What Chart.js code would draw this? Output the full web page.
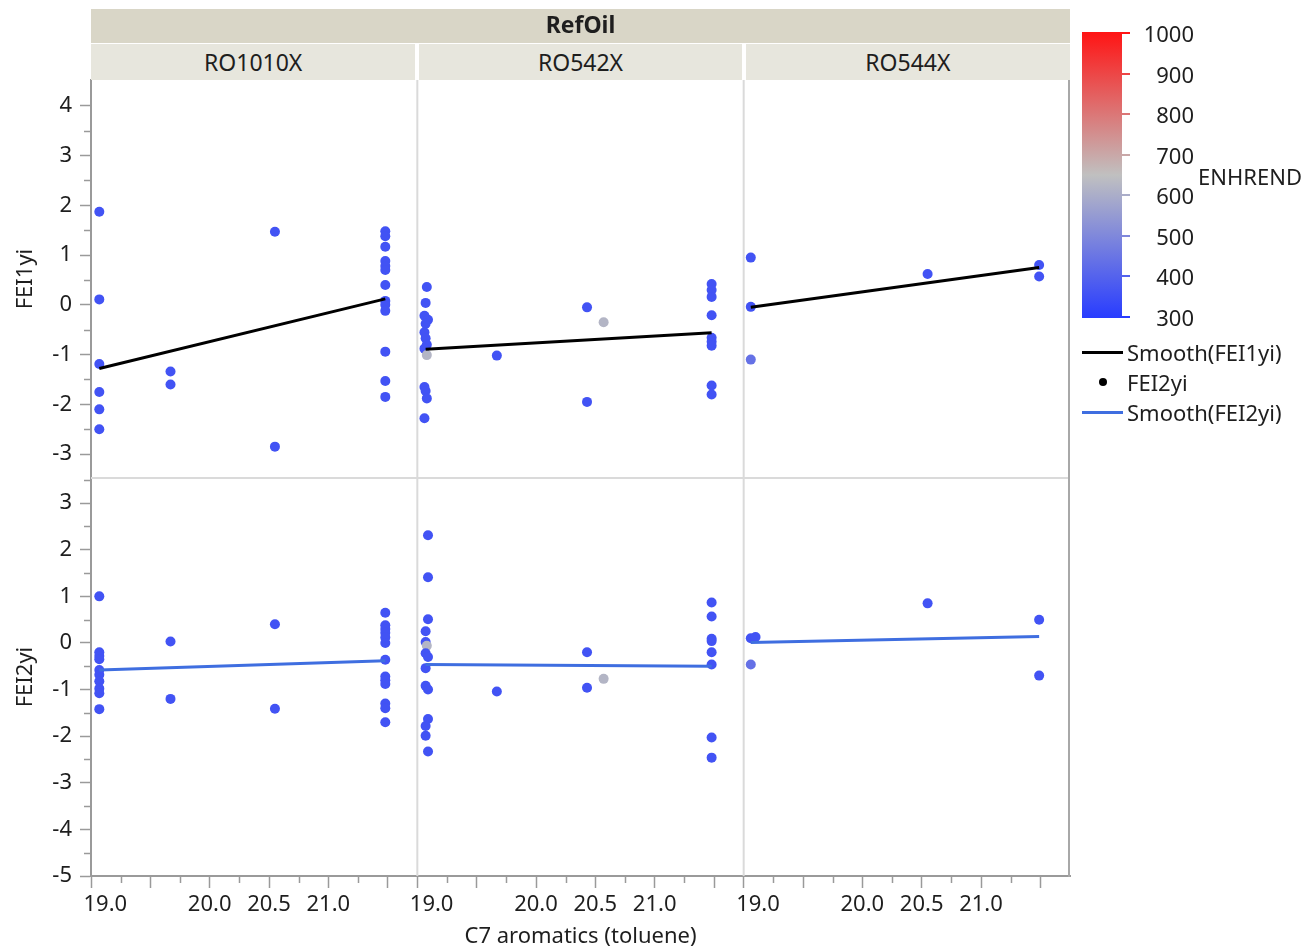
<!DOCTYPE html>
<html>
<head>
<meta charset="utf-8">
<title>FEI1yi / FEI2yi by C7 aromatics</title>
<script src="https://cdn.jsdelivr.net/npm/chart.js@4.4.1/dist/chart.umd.min.js"></script>
<style>
  body { margin: 0; background: #fff; font-family: 'Noto Sans', sans-serif; color: #1e1e1e; }
  #wrap { position: absolute; left: 0; top: 0; width: 1310px; height: 951px; }
  .abs { position: absolute; white-space: nowrap; }
  .hdr { text-align: center; font-size: 23px; }
</style>
</head>
<body>
<div id="wrap"><canvas id="chart" width="1310" height="951"></canvas></div>
<div id="overlay"></div>
<script>
// group labels
const refOils = ['RO1010X', 'RO542X', 'RO544X'];

// points: [C7 aromatics (toluene), value, ENHREND]
const fei1_RO1010X = [
  [19.07, 1.87, 360], [19.07, 0.11, 360], [19.07, -1.19, 360], [19.07, -1.75, 360], [19.07, -2.10, 360], [19.07, -2.50, 360],
  [19.67, -1.34, 360], [19.67, -1.60, 360],
  [20.55, 1.47, 360], [20.55, -2.85, 360],
  [21.48, 1.48, 360], [21.48, 1.38, 360], [21.48, 1.17, 360], [21.48, 0.88, 360], [21.48, 0.78, 360], [21.48, 0.70, 360],
  [21.48, 0.40, 360], [21.48, 0.08, 360], [21.48, 0.00, 360], [21.48, -0.12, 360], [21.48, -0.94, 360], [21.48, -1.53, 360], [21.48, -1.85, 360]
];
const fei1_RO542X = [
  [19.08, 0.36, 360], [19.07, 0.04, 360], [19.06, -0.22, 360], [19.09, -0.30, 360], [19.07, -0.38, 360], [19.06, -0.55, 360],
  [19.07, -0.67, 360], [19.08, -0.80, 360], [19.06, -0.88, 360], [19.08, -1.01, 620], [19.06, -1.65, 360], [19.07, -1.73, 360],
  [19.08, -1.88, 360], [19.06, -2.28, 360],
  [19.67, -1.02, 360],
  [20.43, -0.05, 360], [20.43, -1.95, 360],
  [20.57, -0.35, 620],
  [21.48, 0.42, 360], [21.48, 0.30, 360], [21.48, 0.16, 360], [21.48, -0.21, 360], [21.48, -0.66, 360], [21.48, -0.74, 360],
  [21.48, -0.82, 360], [21.48, -1.62, 360], [21.48, -1.80, 360]
];
const fei1_RO544X = [
  [19.06, 0.95, 360], [19.06, -0.04, 360], [19.06, -1.10, 440],
  [20.55, 0.62, 360],
  [21.49, 0.80, 360], [21.49, 0.57, 360]
];
const fei2_RO1010X = [
  [19.07, 1.00, 360], [19.07, -0.20, 360], [19.07, -0.28, 360], [19.07, -0.35, 360], [19.07, -0.58, 360], [19.07, -0.68, 360],
  [19.07, -0.82, 360], [19.07, -0.98, 360], [19.07, -1.08, 360], [19.07, -1.42, 360],
  [19.67, 0.03, 360], [19.67, -1.20, 360],
  [20.55, 0.40, 360], [20.55, -1.41, 360],
  [21.48, 0.65, 360], [21.48, 0.38, 360], [21.48, 0.30, 360], [21.48, 0.22, 360], [21.48, 0.12, 360], [21.48, 0.00, 360],
  [21.48, -0.36, 360], [21.48, -0.72, 360], [21.48, -0.80, 360], [21.48, -0.88, 360], [21.48, -1.30, 360], [21.48, -1.40, 360],
  [21.48, -1.70, 360]
];
const fei2_RO542X = [
  [19.09, 2.31, 360], [19.09, 1.41, 360], [19.09, 0.51, 360], [19.07, 0.25, 360], [19.07, 0.02, 360], [19.08, -0.06, 620],
  [19.07, -0.22, 360], [19.09, -0.30, 360], [19.07, -0.54, 360], [19.07, -0.92, 360], [19.09, -1.00, 360], [19.09, -1.63, 360],
  [19.07, -1.78, 360], [19.07, -1.99, 360], [19.09, -2.33, 360],
  [19.67, -1.04, 360],
  [20.43, -0.20, 360], [20.43, -0.96, 360],
  [20.57, -0.77, 620],
  [21.48, 0.87, 360], [21.48, 0.57, 360], [21.48, 0.09, 360], [21.48, 0.04, 360], [21.48, -0.20, 360], [21.48, -0.46, 360],
  [21.48, -2.03, 360], [21.48, -2.46, 360]
];
const fei2_RO544X = [
  [19.06, 0.10, 360], [19.10, 0.13, 360], [19.06, -0.46, 440],
  [20.55, 0.85, 360],
  [21.49, 0.50, 360], [21.49, -0.70, 360]
];

// smoother lines [x, y]
const smooth1_RO1010X = [[19.07, -1.28], [21.48, 0.12]];
const smooth1_RO542X = [[19.07, -0.89], [21.48, -0.56]];
const smooth1_RO544X = [[19.06, -0.05], [21.49, 0.75]];
const smooth2_RO1010X = [[19.07, -0.58], [21.48, -0.38]];
const smooth2_RO542X = [[19.07, -0.46], [21.48, -0.50]];
const smooth2_RO544X = [[19.06, 0.01], [21.49, 0.14]];

// axes
const xTicks = [19.0, 19.5, 20.0, 20.5, 21.0, 21.5];
const xTickLabels = ['19.0', '', '20.0', '20.5', '21.0', ''];
const xMinorTicks = [19.25, 19.75, 20.25, 20.75, 21.25];
const fei1Ticks = [-3, -2, -1, 0, 1, 2, 3, 4];
const fei1MinorTicks = [-2.5, -1.5, -0.5, 0.5, 1.5, 2.5, 3.5];
const fei2Ticks = [-5, -4, -3, -2, -1, 0, 1, 2, 3];
const fei2MinorTicks = [-4.5, -3.5, -2.5, -1.5, -0.5, 0.5, 1.5, 2.5, 3.5];
const enhTicks = [1000, 900, 800, 700, 600, 500, 400, 300];

const fei1Rows = [fei1_RO1010X, fei1_RO542X, fei1_RO544X];
const fei2Rows = [fei2_RO1010X, fei2_RO542X, fei2_RO544X];
const smooth1 = [smooth1_RO1010X, smooth1_RO542X, smooth1_RO544X];
const smooth2 = [smooth2_RO1010X, smooth2_RO542X, smooth2_RO544X];

// blue - gray - red colour map for ENHREND
const enhLow = [40, 60, 255], enhMid = [192, 192, 192], enhHigh = [255, 20, 20];
const enhColor = v => {
  const t = Math.max(0, Math.min(1, (v - 300) / 700));
  const a = t < 0.5 ? enhLow : enhMid;
  const b = t < 0.5 ? enhMid : enhHigh;
  const u = t < 0.5 ? t / 0.5 : (t - 0.5) / 0.5;
  return 'rgb(' + a.map((k, i) => Math.round(k + (b[i] - k) * u)).join(',') + ')';
};

const textColor = '#1e1e1e';
const axisColor = '#9a9a9a';
const font = { family: "'Noto Sans', sans-serif", size: 22 };
Chart.defaults.font.family = font.family;

const datasets = [];
[fei1Rows, fei2Rows].forEach((rows, r) => {
  rows.forEach((pts, c) => {
    datasets.push({
      type: 'scatter',
      data: pts.map(p => ({ x: p[0], y: p[1] })),
      xAxisID: 'x' + c,
      yAxisID: 'y' + r,
      pointRadius: 5,
      pointBorderWidth: 0,
      pointBackgroundColor: pts.map(p => enhColor(p[2])),
      order: 2
    });
    const sm = (r === 0 ? smooth1 : smooth2)[c];
    datasets.push({
      type: 'line',
      data: sm.map(p => ({ x: p[0], y: p[1] })),
      xAxisID: 'x' + c,
      yAxisID: 'y' + r,
      borderColor: r === 0 ? '#000000' : '#3f6ee0',
      borderWidth: 3,
      pointRadius: 0,
      fill: false,
      order: 1
    });
  });
});

// weight decides the order inside the left stack (higher weight goes on top)
function yScale(min, max, ticks, title, weight) {
  return {
    type: 'linear', position: 'left', stack: 'rows', stackWeight: 1, weight: weight,
    min: min, max: max,
    afterBuildTicks: s => { s.ticks = ticks.map(v => ({ value: v })); },
    afterFit: s => { s.width = 91; },
    ticks: { font: font, color: textColor, padding: 8, autoSkip: false, callback: v => String(v) },
    grid: { drawOnChartArea: false, drawTicks: true, tickLength: 11, tickColor: axisColor, tickWidth: 1.5 },
    border: { display: true, color: axisColor, width: 2 },
    title: { display: true, text: title, font: font, color: textColor, padding: { top: 13, bottom: 0 } }
  };
}

function xScale(showTitle) {
  return {
    type: 'linear', position: 'bottom', stack: 'cols', stackWeight: 1,
    min: 19.0, max: 21.75,
    afterBuildTicks: s => { s.ticks = xTicks.map(v => ({ value: v })); },
    afterFit: s => { s.height = 75; },
    ticks: {
      font: font, color: textColor, padding: 4, autoSkip: false, maxRotation: 0, minRotation: 0,
      callback: v => {
        const i = xTicks.indexOf(v);
        const lab = i < 0 ? '' : xTickLabels[i];
        // first label sits a little to the right, inside the panel
        return i === 0 ? '     ' + lab : lab;
      }
    },
    grid: { drawOnChartArea: false, drawTicks: true, tickLength: 12, tickColor: axisColor, tickWidth: 1.5 },
    border: { display: true, color: axisColor, width: 2 },
    title: { display: showTitle, text: 'C7 aromatics (toluene)', font: font, color: textColor, padding: { top: 0, bottom: 1 } }
  };
}

const panelFrame = {
  id: 'panelFrame',
  beforeDatasetsDraw(chart) {
    const { ctx, chartArea: a, scales } = chart;
    ctx.save();
    ctx.strokeStyle = '#dadada';
    ctx.lineWidth = 2;
    ctx.beginPath();
    [scales.x1.left, scales.x2.left].forEach(x => { ctx.moveTo(x, a.top); ctx.lineTo(x, a.bottom); });
    ctx.moveTo(a.left, scales.y0.bottom);
    ctx.lineTo(a.right, scales.y0.bottom);
    ctx.stroke();
    ctx.strokeStyle = '#a8a8a8';
    ctx.beginPath();
    ctx.moveTo(a.right - 1, a.top);
    ctx.lineTo(a.right - 1, a.bottom + 1);
    ctx.stroke();
    ctx.restore();
  },
  afterDraw(chart) {
    const { ctx, scales } = chart;
    ctx.save();
    ctx.strokeStyle = axisColor;
    ctx.lineWidth = 1.5;
    ctx.beginPath();
    [['y0', fei1MinorTicks], ['y1', fei2MinorTicks]].forEach(([id, vals]) => {
      const s = scales[id];
      vals.forEach(v => {
        if (v < s.min || v > s.max) return;
        const y = Math.round(s.getPixelForValue(v)) + 0.5;
        ctx.moveTo(s.right - 7, y);
        ctx.lineTo(s.right, y);
      });
    });
    ['x0', 'x1', 'x2'].forEach(id => {
      const s = scales[id];
      xMinorTicks.forEach(v => {
        const x = Math.round(s.getPixelForValue(v)) + 0.5;
        ctx.moveTo(x, s.top);
        ctx.lineTo(x, s.top + 7);
      });
    });
    ctx.stroke();
    ctx.restore();
  }
};

const chart = new Chart(document.getElementById('chart'), {
  type: 'scatter',
  data: { datasets: datasets },
  options: {
    responsive: false,
    animation: false,
    devicePixelRatio: 1,
    layout: { padding: { top: 80, right: 240, left: 0, bottom: 0 } },
    plugins: { legend: { display: false }, tooltip: { enabled: false } },
    scales: {
      y0: yScale(-3.48, 4.52, fei1Ticks, 'FEI1yi', 2),
      y1: yScale(-5, 3.54, fei2Ticks, 'FEI2yi', 1),
      x0: xScale(false),
      x1: xScale(true),
      x2: xScale(false)
    }
  },
  plugins: [panelFrame]
});

// headers and colour legend
const overlay = document.getElementById('overlay');
function addDiv(style, text, cls) {
  const d = document.createElement('div');
  d.className = 'abs' + (cls ? ' ' + cls : '');
  Object.assign(d.style, style);
  if (text !== undefined) d.textContent = text;
  overlay.appendChild(d);
  return d;
}

const area = chart.chartArea;
addDiv({ left: area.left + 'px', top: '9px', width: (area.right - area.left) + 'px', height: '34px',
  lineHeight: '30px', background: '#d9d6c7', fontWeight: 'bold' }, 'RefOil', 'hdr');
refOils.forEach((name, c) => {
  const s = chart.scales['x' + c];
  const l = s.left + (c > 0 ? 2 : 0);
  const r = s.right - (c < refOils.length - 1 ? 2 : 0);
  addDiv({ left: l + 'px', top: '44px', width: (r - l) + 'px', height: '36px', lineHeight: '36px',
    background: '#e7e6dd' }, name, 'hdr');
});

// colour bar for ENHREND
const barTop = 32, barH = 286, barLeft = 1082, barW = 40;
const grad = [300, 475, 650, 825, 1000].map((v, i) => enhColor(v) + ' ' + (i * 25) + '%').join(', ');
addDiv({ left: barLeft + 'px', top: barTop + 'px', width: barW + 'px', height: barH + 'px',
  background: 'linear-gradient(to top, ' + grad + ')' });
enhTicks.forEach(v => {
  const y = barTop + 1 + (1000 - v) / 700 * (barH - 2);
  addDiv({ left: (barLeft + barW) + 'px', top: (y - 1) + 'px', width: '8px', height: '2px', background: enhColor(v) });
  addDiv({ left: '1130px', width: '64px', top: (y - 13) + 'px', lineHeight: '26px', fontSize: '22px', textAlign: 'right' }, String(v));
});
addDiv({ left: '1198px', top: '163px', lineHeight: '26px', fontSize: '22px' }, 'ENHREND');

// legend entries
addDiv({ left: '1082px', top: '351px', width: '41px', height: '3px', background: '#000' });
addDiv({ left: '1127px', top: '339px', lineHeight: '26px', fontSize: '22px' }, 'Smooth(FEI1yi)');
addDiv({ left: '1099px', top: '378px', width: '8px', height: '8px', borderRadius: '50%', background: '#000' });
addDiv({ left: '1127px', top: '369px', lineHeight: '26px', fontSize: '22px' }, 'FEI2yi');
addDiv({ left: '1082px', top: '411px', width: '41px', height: '3px', background: '#3f6ee0' });
addDiv({ left: '1127px', top: '399px', lineHeight: '26px', fontSize: '22px' }, 'Smooth(FEI2yi)');
</script>
</body>
</html>
